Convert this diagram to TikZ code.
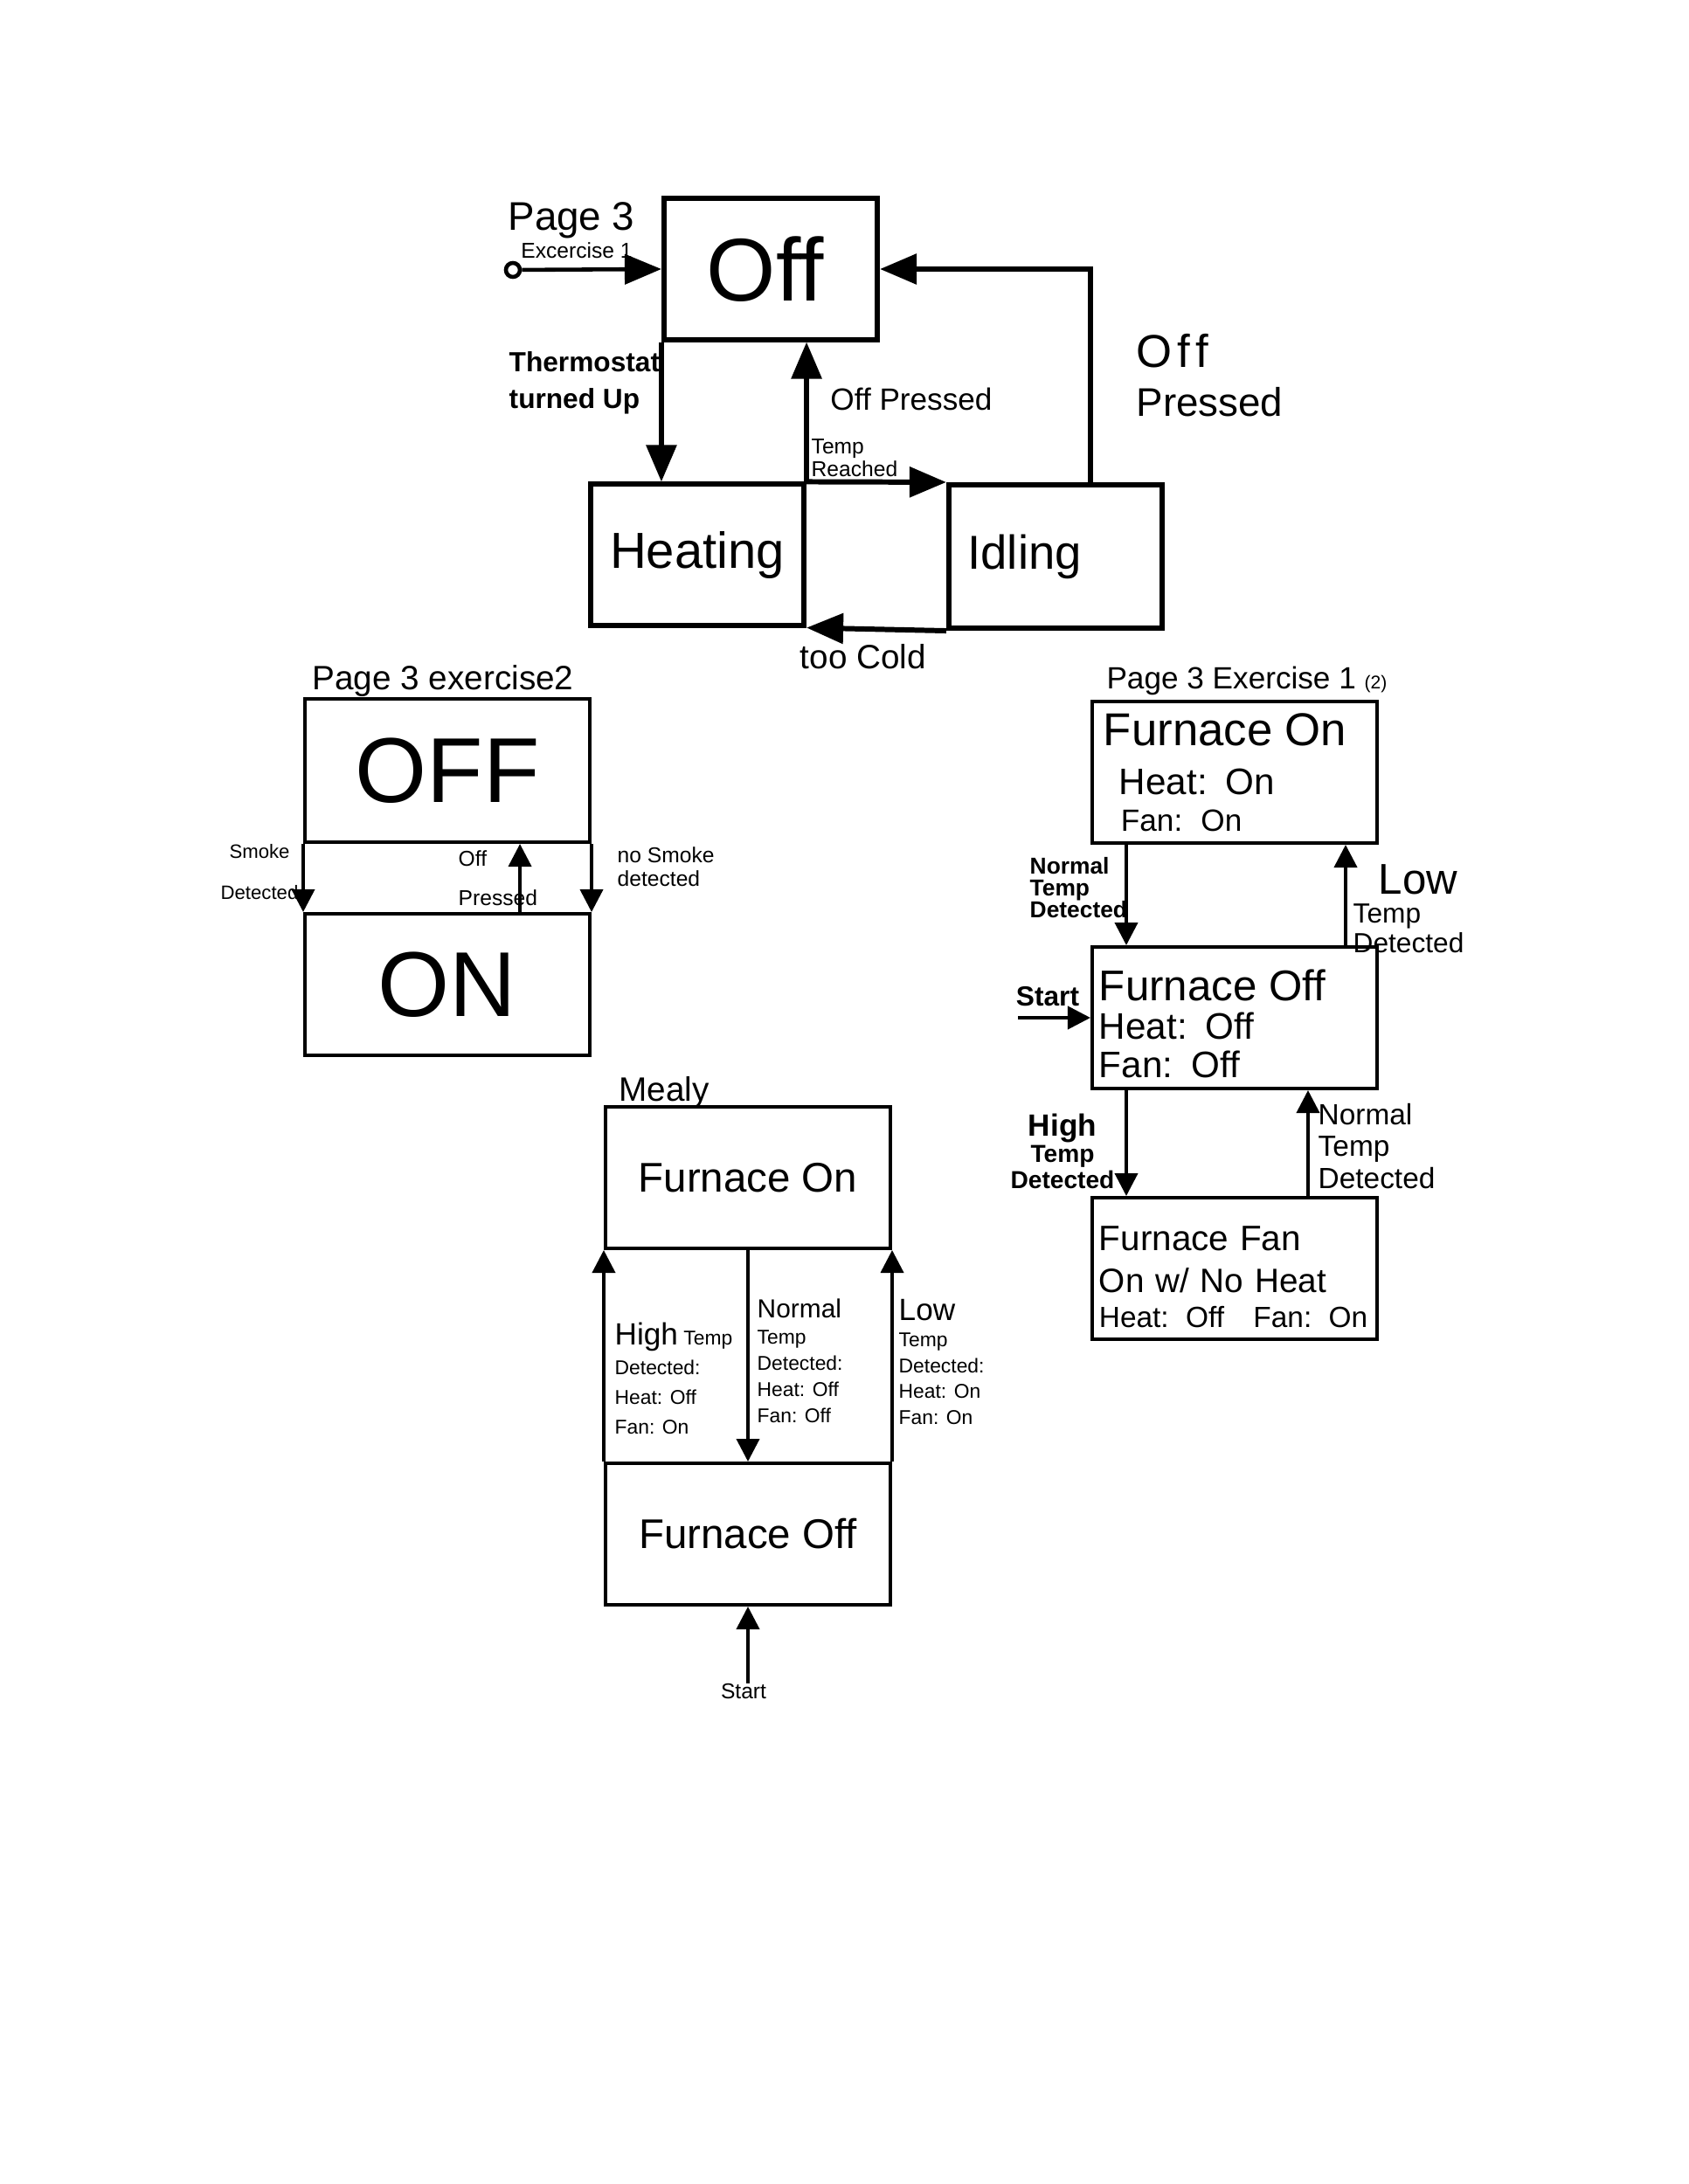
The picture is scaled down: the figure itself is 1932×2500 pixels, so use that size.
\documentclass[tikz,border=0pt]{standalone}
\usepackage{fontspec}
\setmainfont{Liberation Sans}
\usetikzlibrary{arrows.meta}

\begin{document}
\begin{tikzpicture}[x=0.01cm,y=-0.01cm,
  topbox/.style={draw,line width=1.7pt,inner sep=0pt,minimum width=2.44cm,minimum height=1.61cm},
  statebox/.style={draw,line width=1.1pt,inner sep=0pt,minimum width=3.26cm,minimum height=1.62cm},
  bigarr/.style={line width=1.7pt,-{Triangle[width=0.34cm,length=0.42cm]}},
  arr/.style={line width=1.1pt,-{Triangle[width=0.26cm,length=0.26cm]}},
  lbl/.style 2 args={inner sep=0pt,align=left,font=\fontsize{#1}{#2}\selectfont},
  blbl/.style 2 args={lbl={#1}{#2},font=\fontsize{#1}{#2}\selectfont\bfseries}]
\useasboundingbox (0,0) rectangle (1932,2500);
\node[topbox,font=\fontsize{29}{33}\selectfont] (off) at (882,308) {\kern-0.12cm Off};
\node[topbox,font=\fontsize{16.5}{20}\selectfont] (heating) at (798,635) {Heating};
\node[topbox,minimum height=1.64cm,text width=2.01cm,align=left,font=\fontsize{15.5}{18}\selectfont] (idling) at (1208,637) {Idling};
\node[draw,circle,line width=1.3pt,minimum size=0.16cm,inner sep=0pt] (init) at (587,309) {};
\coordinate (turn) at (1248,308);
\node[lbl={13}{15}] (pg) at (654,252) {Page 3};
\node[lbl={7}{8}] (ex) at (660,287) {Excercise 1};
\node[blbl={9}{12},anchor=west] (thermo) at (582,438) {Thermostat\\turned Up};
\node[lbl={10}{12}] (offpr) at (1043,457) {Off Pressed};
\node[lbl={7}{6.5},anchor=west] (treach) at (928,524) {Temp\\Reached};
\node[lbl={13}{16},anchor=west] (offpr2) at (1300,430) {{\fontsize{15}{15}\selectfont O\kern0.06cm f\kern0.06cm f}\\Pressed};
\node[lbl={11}{13}] (cold) at (988,752) {too Cold};
\draw[bigarr,line width=1.3pt] (init) -- (off.west);
\draw[bigarr] (off.south west) -- (off.south west |- heating.north);
\draw[bigarr] (heating.north east) -- (heating.north east |- off.south);
\draw[bigarr] (heating.north east) -- (idling.north west);
\draw[bigarr] (idling.north -| turn) -- (turn) -- (off.east);
\draw[bigarr] (idling.south west) -- (heating.south east);

\node[lbl={11}{13}] (pg2) at (507,779) {Page 3 exercise2};
\node[statebox,minimum height=1.64cm,font=\fontsize{30}{34}\selectfont] (smokeoff) at (512,882) {OFF};
\node[statebox,font=\fontsize{30}{34}\selectfont] (smokeon) at (512,1127) {ON};
\draw[arr] (smokeoff.south west) -- (smokeon.north west);
\draw[arr] (smokeoff.south east) -- (smokeon.north east);
\draw[arr] ([xshift=0.83cm]smokeon.north) -- ([xshift=0.83cm]smokeoff.south);
\node[lbl={6.3}{13.5},align=center] (smk) at (297,998) {Smoke\\Detected};
\node[lbl={7}{12.8},anchor=west] (offpr3) at (524,1005) {Off\\Pressed};
\node[lbl={7}{7.7},anchor=west] (nosmk) at (706,992) {no Smoke\\detected};

\node[lbl={10}{12}] (pg3) at (1427,779) {Page 3 Exercise 1 {\fontsize{6}{7}\selectfont(2)}};
\node[statebox,text width=3.0cm,align=left,font=\fontsize{12}{16}\selectfont] (fon) at (1413,884) {{\fontsize{15}{15}\selectfont Furnace On}\\\hspace*{0.18cm}Heat: On\\[-4pt]\hspace*{0.2cm}{\fontsize{10}{10}\selectfont Fan: On}};
\node[statebox,text width=3.1cm,align=left,font=\fontsize{12}{12.5}\selectfont] (foff) at (1413,1165) {\rule{0pt}{0.5cm}{\fontsize{14}{14}\selectfont Furnace Off}\\Heat: Off\\Fan: Off};
\node[statebox,text width=3.1cm,align=left,font=\fontsize{11}{13.5}\selectfont] (ffan) at (1413,1452) {\rule{0pt}{0.48cm}{\fontsize{11.5}{11.5}\selectfont Furnace Fan}\\On w/ No Heat\\[-2pt]{\fontsize{9.5}{10}\selectfont Heat: Off\quad Fan: On}};
\draw[arr] ([xshift=0.41cm]fon.south west) -- ([xshift=0.41cm]foff.north west);
\draw[arr] ([xshift=-0.38cm]foff.north east) -- ([xshift=-0.38cm]fon.south east);
\draw[arr] ([xshift=0.41cm]foff.south west) -- ([xshift=0.41cm]ffan.north west);
\draw[arr] ([xshift=-0.81cm]ffan.north east) -- ([xshift=-0.81cm]foff.south east);
\node[blbl={9}{11}] (rstart) at (1199,1141) {Start};
\coordinate (rtail) at (1165,1165);
\draw[arr] (rtail) -- (foff.west);
\node[blbl={7.5}{7},anchor=west] (nt1) at (1178,1016) {Normal\\Temp\\Detected};
\node[lbl={9}{9.5},anchor=west] (lt1) at (1548,1040) {\hspace*{0.29cm}{\fontsize{14}{14}\selectfont Low}\\Temp\\Detected};
\node[blbl={8}{8.5},align=center] (ht1) at (1216,1318) {{\fontsize{10}{10}\selectfont High}\\Temp\\Detected};
\node[lbl={9.5}{10.5},anchor=west] (nt2) at (1508,1312) {Normal\\Temp\\Detected};

\node[lbl={11}{13}] (mealy) at (760,1250) {Mealy};
\node[statebox,font=\fontsize{13.5}{16}\selectfont] (mon) at (856,1348) {Furnace On};
\node[statebox,font=\fontsize{13.5}{16}\selectfont] (moff) at (856,1756) {Furnace Off};
\draw[arr] (moff.north west) -- (mon.south west);
\draw[arr] (mon.south) -- (moff.north);
\draw[arr] (moff.north east) -- (mon.south east);
\node[lbl={7}{8}] (mstart) at (851,1936) {Start};
\draw[arr] (moff.south |- mstart.north) -- (moff.south);
\node[lbl={6.5}{9.7},anchor=west] (hi) at (703,1578) {{\fontsize{10}{10}\selectfont High} Temp\\Detected:\\Heat: Off\\Fan: On};
\node[lbl={6.5}{8.5},anchor=west] (no) at (866,1558) {{\fontsize{8.5}{9}\selectfont Normal}\\Temp\\Detected:\\Heat: Off\\Fan: Off};
\node[lbl={6.5}{8.5},anchor=west] (lo) at (1028,1559) {{\fontsize{10}{10}\selectfont Low}\\Temp\\Detected:\\Heat: On\\Fan: On};
\end{tikzpicture}
\end{document}
